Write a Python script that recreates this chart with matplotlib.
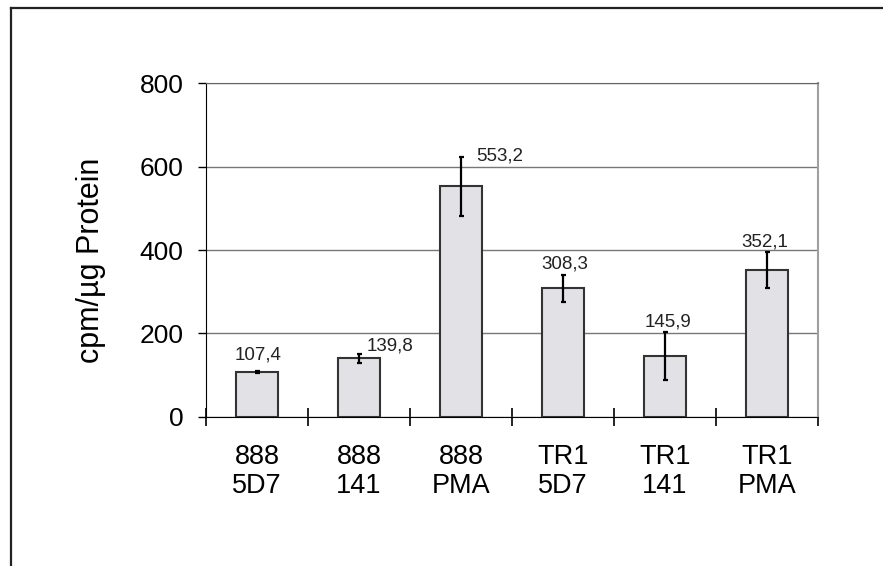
import matplotlib
matplotlib.use("Agg")
import matplotlib.pyplot as plt
from matplotlib.lines import Line2D
import numpy as np

plt.rcParams['font.family'] = ['Liberation Sans', 'DejaVu Sans']

# data
categories = ["888\n5D7", "888\n141", "888\nPMA", "TR1\n5D7", "TR1\n141", "TR1\nPMA"]
values = [107.4, 139.8, 553.2, 308.3, 145.9, 352.1]
errors = [3, 10, 71, 33, 58, 44]
value_labels = ["107,4", "139,8", "553,2", "308,3", "145,9", "352,1"]

# label offsets (pixels, from bar top)
label_dx = [1, 31, 39, 2, 3, -2]
label_dy = [17, 12, 30, 24, 34, 28]

fig = plt.figure(figsize=(8.83, 5.66), dpi=100)
ax = fig.add_axes([206 / 883, 1 - 416.7 / 566, (818 - 206) / 883, (416.7 - 83.4) / 566])

x = np.arange(len(values))
ax.bar(x, values, width=0.41, color='#e1e1e6', edgecolor='#333333', linewidth=1.5, zorder=3)
ax.errorbar(x, values, yerr=errors, fmt='none', ecolor='black', elinewidth=1.6,
            capsize=1.8, capthick=1.6, zorder=4)

for i, (v, lab) in enumerate(zip(values, value_labels)):
    ax.annotate(lab, xy=(i, v), xytext=(label_dx[i] * 0.72, label_dy[i] * 0.72),
                textcoords='offset points', ha='center', va='center', fontsize=13.5,
                color='#222222', zorder=5)

ax.set_xlim(-0.5, 5.5)
ax.set_ylim(0, 800)
ax.set_yticks([0, 200, 400, 600, 800])
ax.yaxis.grid(True, color='#777777', linewidth=1, zorder=0)
ax.set_axisbelow(True)

ax.set_xticks(np.arange(-0.5, 6, 1.0))
ax.set_xticklabels([])
ax.set_xticks(x, minor=True)
ax.set_xticklabels(categories, minor=True, fontsize=19.5, linespacing=1.15)
ax.tick_params(axis='x', which='major', direction='inout', length=13, width=1.2)
ax.tick_params(axis='x', which='minor', length=0, pad=20)
ax.tick_params(axis='y', direction='out', length=5.8, width=1, pad=10.5, labelsize=19)

ax.spines['left'].set_color('black')
ax.spines['bottom'].set_color('black')
ax.spines['top'].set_color('#666666')
ax.spines['right'].set_color('#a0a0a0')
ax.spines['right'].set_linewidth(1.5)

ax.set_ylabel("cpm/µg Protein", fontsize=22)
ax.yaxis.set_label_coords((106 - 206) / 612, (416.7 - 260.5) / 333.3)

# outer frame (left and top edges visible)
fig.add_artist(Line2D([11 / 883, 11 / 883], [0, 1 - 7.5 / 566], color='#222222', linewidth=1.6,
                      transform=fig.transFigure))
fig.add_artist(Line2D([11 / 883, 882 / 883], [1 - 7.5 / 566, 1 - 7.5 / 566], color='#222222',
                      linewidth=1.6, transform=fig.transFigure))

fig.savefig("out.png", dpi=100)
